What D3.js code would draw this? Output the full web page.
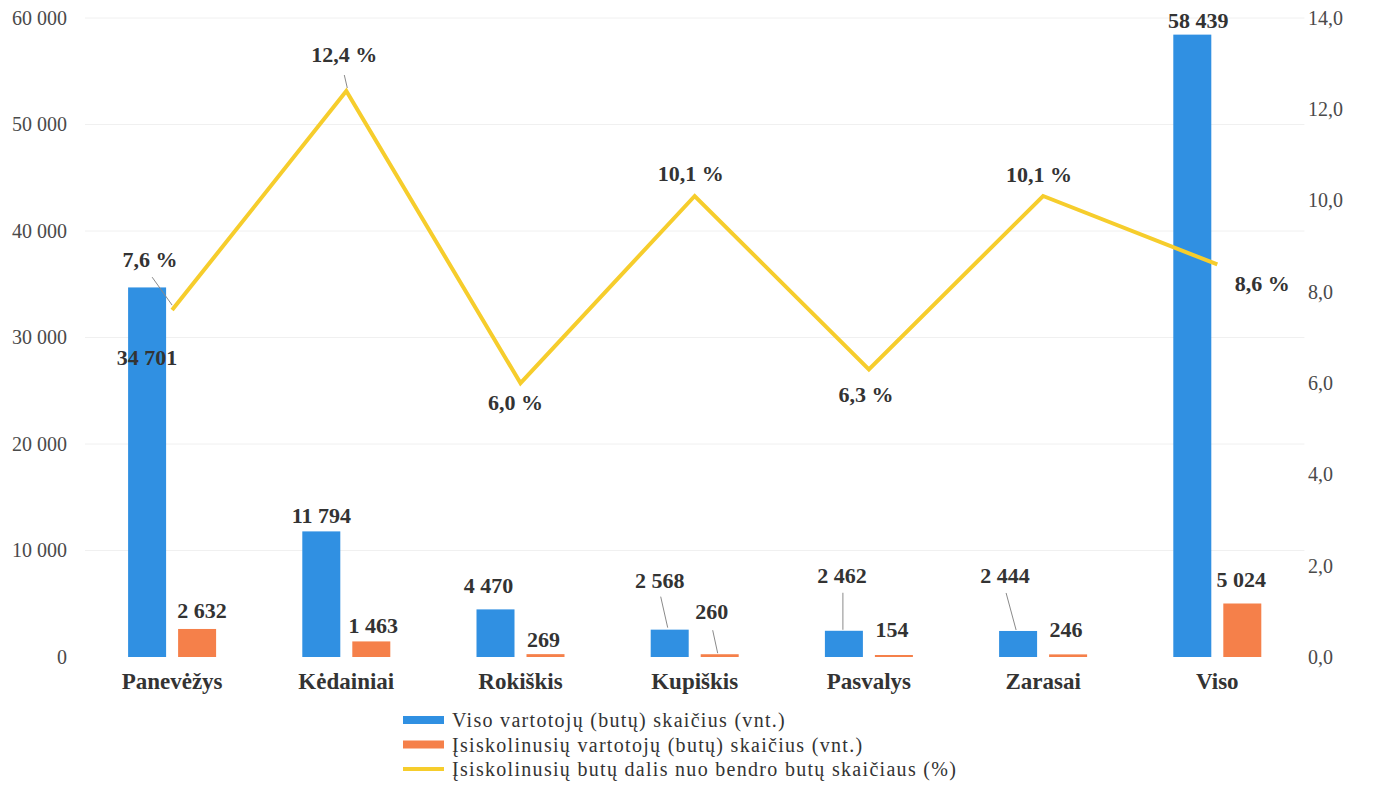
<!DOCTYPE html>
<html><head><meta charset="utf-8">
<script src="https://cdn.jsdelivr.net/npm/d3@7"></script>
<style>
html,body{margin:0;padding:0;background:#fff;}
svg{display:block;font-family:"Liberation Serif","DejaVu Serif",serif;}
</style></head>
<body><svg id="c" width="1373" height="786"></svg>
<script>
const categories = ["Panevėžys","Kėdainiai","Rokiškis","Kupiškis","Pasvalys","Zarasai","Viso"];
const totalFlats = [34701, 11794, 4470, 2568, 2462, 2444, 58439];
const debtorFlats = [2632, 1463, 269, 260, 154, 246, 5024];
const debtShare = [7.6, 12.4, 6.0, 10.1, 6.3, 10.1, 8.6];
const leftTicks = [0, 10000, 20000, 30000, 40000, 50000, 60000];
const rightTicks = [0, 2, 4, 6, 8, 10, 12, 14];
const seriesNames = [
  "Viso vartotojų (butų) skaičius (vnt.)",
  "Įsiskolinusių vartotojų (butų) skaičius (vnt.)",
  "Įsiskolinusių butų dalis nuo bendro butų skaičiaus (%)"
];

const colors = {blue:"#3090e2", orange:"#f5804a", yellow:"#f6cd2c", text:"#333", axis:"#4a4a4a", grid:"#f0f0f0"};
const svg = d3.select("#c");
const L = 85, R = 1304.4, T = 18, B = 657;

const x = d3.scaleBand().domain(categories).range([L, R]).paddingInner(0).paddingOuter(0);
const yL = d3.scaleLinear().domain([0, 60000]).range([B, T]);
const yR = d3.scaleLinear().domain([0, 14]).range([B, T]);
const cx = c => x(c) + x.bandwidth() / 2;
const fmtInt = v => d3.format(",")(v).replace(/,/g, " ");
const fmtDec = v => d3.format(".1f")(v).replace(".", ",");

// grid
svg.append("g").selectAll("line").data(leftTicks.slice(1)).join("line")
  .attr("x1", L).attr("x2", R).attr("y1", d => yL(d)).attr("y2", d => yL(d))
  .attr("stroke", colors.grid).attr("stroke-width", 1);

// left axis
const gl = svg.append("g").attr("transform", `translate(67,0)`)
  .call(d3.axisLeft(yL).tickValues(leftTicks).tickFormat(fmtInt).tickSize(0).tickPadding(0));
gl.select(".domain").remove();
gl.selectAll("text").attr("font-size", 20).attr("fill", colors.axis).attr("font-family", "Liberation Serif").attr("dy", "0.32em");

// right axis
const gr = svg.append("g").attr("transform", `translate(1308,0)`)
  .call(d3.axisRight(yR).tickValues(rightTicks).tickFormat(fmtDec).tickSize(0).tickPadding(0));
gr.select(".domain").remove();
gr.selectAll("text").attr("font-size", 20).attr("fill", colors.axis).attr("font-family", "Liberation Serif").attr("dy", "0.32em");

// x labels
svg.append("g").selectAll("text").data(categories).join("text")
  .attr("x", d => cx(d)).attr("y", 689).attr("text-anchor", "middle")
  .attr("font-size", 23).attr("font-weight", "bold").attr("fill", colors.text).text(d => d);

const bw = 38, gap = 6;
const blueC = c => cx(c) - gap - bw / 2;
const orangeC = c => cx(c) + gap + bw / 2;
// bars
svg.append("g").selectAll("rect").data(categories).join("rect")
  .attr("x", d => blueC(d) - bw / 2).attr("width", bw)
  .attr("y", (d, i) => yL(totalFlats[i])).attr("height", (d, i) => B - yL(totalFlats[i]))
  .attr("fill", colors.blue);
svg.append("g").selectAll("rect").data(categories).join("rect")
  .attr("x", d => orangeC(d) - bw / 2).attr("width", bw)
  .attr("y", (d, i) => Math.min(yL(debtorFlats[i]), B - 2)).attr("height", (d, i) => Math.max(B - yL(debtorFlats[i]), 2))
  .attr("fill", colors.orange);

// line
const line = d3.line().x((d, i) => cx(categories[i])).y(d => yR(d));
svg.append("path").datum(debtShare).attr("d", line)
  .attr("fill", "none").attr("stroke", colors.yellow).attr("stroke-width", 4).attr("stroke-linejoin", "miter");

// label offsets (style only): [dx from mark centre, dy from mark top]
const totalOff = [[0, 78], [0, -8], [-7, -16], [-10, -42], [-2, -48], [-13, -48], [6, -7]];
const debtOff = [[5, -11], [2, -8], [-2, -7], [-8, -35], [-2, -18], [-2, -17], [-1, -16]];
const pctOff = [[-22, -43], [-2, -29], [-5, 27], [-4, -15], [-3, 33], [-4, -14], [45, 27]];
const labelStyle = s => s.attr("text-anchor", "middle").attr("font-size", 22).attr("font-weight", "bold").attr("fill", colors.text);

// leader lines
const leaders = svg.append("g").attr("stroke", "#8a8a8a").attr("stroke-width", 1);
const pctLeaders = [[0, -20, -33, 0, -5], [1, -2, -16, 1, -3]];
pctLeaders.forEach(([i, x1, y1, x2, y2]) => {
  const px = cx(categories[i]), py = yR(debtShare[i]);
  leaders.append("line").attr("x1", px + x1).attr("y1", py + y1).attr("x2", px + x2).attr("y2", py + y2);
});
const totalLeaders = [[3, -9, -33, -2, -2], [4, -1, -38, -1, -1], [5, -12, -38, -2, -1]];
totalLeaders.forEach(([i, x1, y1, x2, y2]) => {
  const px = blueC(categories[i]), py = yL(totalFlats[i]);
  leaders.append("line").attr("x1", px + x1).attr("y1", py + y1).attr("x2", px + x2).attr("y2", py + y2);
});
const debtLeaders = [[3, -7, -24, -2, -1]];
debtLeaders.forEach(([i, x1, y1, x2, y2]) => {
  const px = orangeC(categories[i]), py = yL(debtorFlats[i]);
  leaders.append("line").attr("x1", px + x1).attr("y1", py + y1).attr("x2", px + x2).attr("y2", py + y2);
});

svg.append("g").selectAll("text").data(categories).join("text")
  .attr("x", (d, i) => blueC(d) + totalOff[i][0])
  .attr("y", (d, i) => yL(totalFlats[i]) + totalOff[i][1])
  .call(labelStyle).text((d, i) => fmtInt(totalFlats[i]));
svg.append("g").selectAll("text").data(categories).join("text")
  .attr("x", (d, i) => orangeC(d) + debtOff[i][0])
  .attr("y", (d, i) => yL(debtorFlats[i]) + debtOff[i][1])
  .call(labelStyle).text((d, i) => fmtInt(debtorFlats[i]));
svg.append("g").selectAll("text").data(categories).join("text")
  .attr("x", (d, i) => cx(d) + pctOff[i][0])
  .attr("y", (d, i) => yR(debtShare[i]) + pctOff[i][1])
  .call(labelStyle).text((d, i) => fmtDec(debtShare[i]) + " %");

// legend
const lg = svg.append("g").attr("transform", "translate(403,720)");
const lcol = [colors.blue, colors.orange, colors.yellow];
seriesNames.forEach((n, i) => {
  const g = lg.append("g").attr("transform", `translate(0,${i * 24.5})`);
  if (i < 2) g.append("rect").attr("x", 0).attr("y", -4).attr("width", 41).attr("height", 8).attr("fill", lcol[i]);
  else g.append("line").attr("x1", 0).attr("x2", 41).attr("y1", 0).attr("y2", 0).attr("stroke", lcol[i]).attr("stroke-width", 4);
  g.append("text").attr("x", 49).attr("y", 7).attr("font-size", 20).attr("letter-spacing", 1.3)
    .attr("fill", colors.text).text(n);
});
</script></body></html>
